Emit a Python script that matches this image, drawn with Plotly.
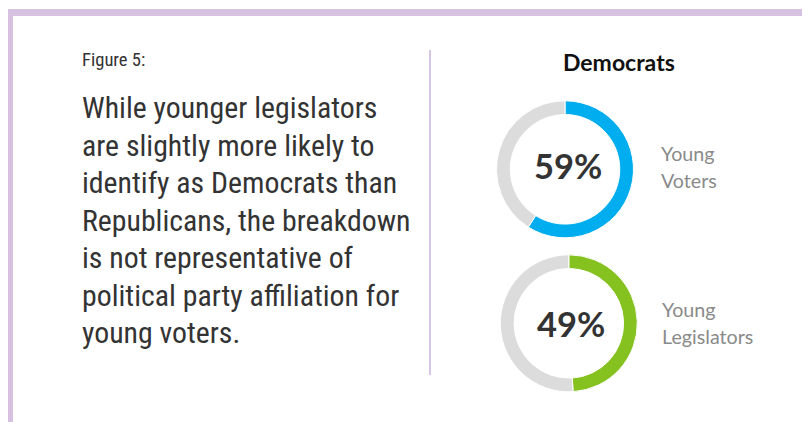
import plotly.graph_objects as go

# The page body adds an 8px margin, so the figure is drawn 8px in from the
# window edge; its size and positions below are expressed in window pixels.
PAGE_W, PAGE_H = 810, 422
OFF = 8
W, H = PAGE_W - OFF, PAGE_H - OFF

# ---- data ----
chart_title = "Democrats"
groups = ["Young Voters", "Young Legislators"]
group_label_lines = [["Young", "Voters"], ["Young", "Legislators"]]
dem_share = [59, 49]
fill_colors = ["#00adef", "#85c21f"]
rest_color = "#dcdcdc"

figure_label = "Figure 5:"
body_lines = [
    "While younger legislators",
    "are slightly more likely to",
    "identify as Democrats than",
    "Republicans, the breakdown",
    "is not representative of",
    "political party affiliation for",
    "young voters.",
]

def px(x):
    return (x - OFF) / W

def py(y):
    return 1 - (y - OFF) / H

fig = go.Figure()

# donut placements (window-pixel centres, radius)
centers = [(565.0, 169.3), (568.8, 323.3)]
radius = 68.5

for i, g in enumerate(groups):
    cx, cy = centers[i]
    fig.add_trace(go.Pie(
        values=[dem_share[i], 100 - dem_share[i]],
        labels=["Democrat", "Other"],
        marker=dict(colors=[fill_colors[i], rest_color], line=dict(color="white", width=1)),
        hole=0.80,
        sort=False,
        direction="clockwise",
        rotation=0,
        textinfo="none",
        hoverinfo="label+percent",
        showlegend=False,
        name=g,
        domain=dict(x=[px(cx - radius), px(cx + radius)], y=[py(cy + radius), py(cy - radius)]),
    ))

annotations = []
# percentages inside donuts
pct_pos = [(568.0, 166), (571, 323)]
for i, v in enumerate(dem_share):
    annotations.append(dict(
        x=px(pct_pos[i][0]), y=py(pct_pos[i][1]), xref="paper", yref="paper",
        text=f"<b>{v}%</b>", showarrow=False, xanchor="center", yanchor="middle",
        font=dict(family="Lato", size=34.5, color="#333333"),
    ))

# group labels
label_pos = [(658.5, [153, 180]), (659.5, [309, 336])]
for i, lines in enumerate(group_label_lines):
    x0, ys = label_pos[i]
    for line, yy in zip(lines, ys):
        annotations.append(dict(
            x=px(x0), y=py(yy), xref="paper", yref="paper", text=line,
            showarrow=False, xanchor="left", yanchor="middle",
            font=dict(family="Lato", size=19.7, color="#8a8a8a"),
        ))

# title of right panel
annotations.append(dict(
    x=px(619), y=py(61.7), xref="paper", yref="paper", text=f"<b>{chart_title}</b>",
    showarrow=False, xanchor="center", yanchor="middle",
    font=dict(family="Lato", size=23, color="#111111"),
))

# left text
annotations.append(dict(
    x=px(80.3), y=py(60), xref="paper", yref="paper", text=figure_label,
    showarrow=False, xanchor="left", yanchor="middle",
    font=dict(family="Roboto Condensed, Roboto", size=18.6, color="#333333"),
))
for k, line in enumerate(body_lines):
    annotations.append(dict(
        x=px(80.2), y=py(107.5 + 37.5 * k), xref="paper", yref="paper", text=line,
        showarrow=False, xanchor="left", yanchor="middle",
        font=dict(family="Roboto Condensed, Roboto", size=29.8, color="#333333"),
    ))

shapes = [
    # frame top
    dict(type="rect", xref="paper", yref="paper", x0=0, x1=1.0, y0=py(16), y1=py(9),
         fillcolor="#d7c1e0", line=dict(width=0), layer="below"),
    # frame left
    dict(type="rect", xref="paper", yref="paper", x0=0, x1=px(13), y0=0, y1=py(9),
         fillcolor="#d7c1e0", line=dict(width=0), layer="below"),
    # divider
    dict(type="line", xref="paper", yref="paper", x0=px(430), x1=px(430), y0=py(375), y1=py(50),
         line=dict(color="#d9c6e3", width=2)),
]

fig.update_layout(
    width=W, height=H,
    margin=dict(l=0, r=0, t=0, b=0),
    paper_bgcolor="white", plot_bgcolor="white",
    annotations=annotations, shapes=shapes,
)

fig.write_html("out.html")
